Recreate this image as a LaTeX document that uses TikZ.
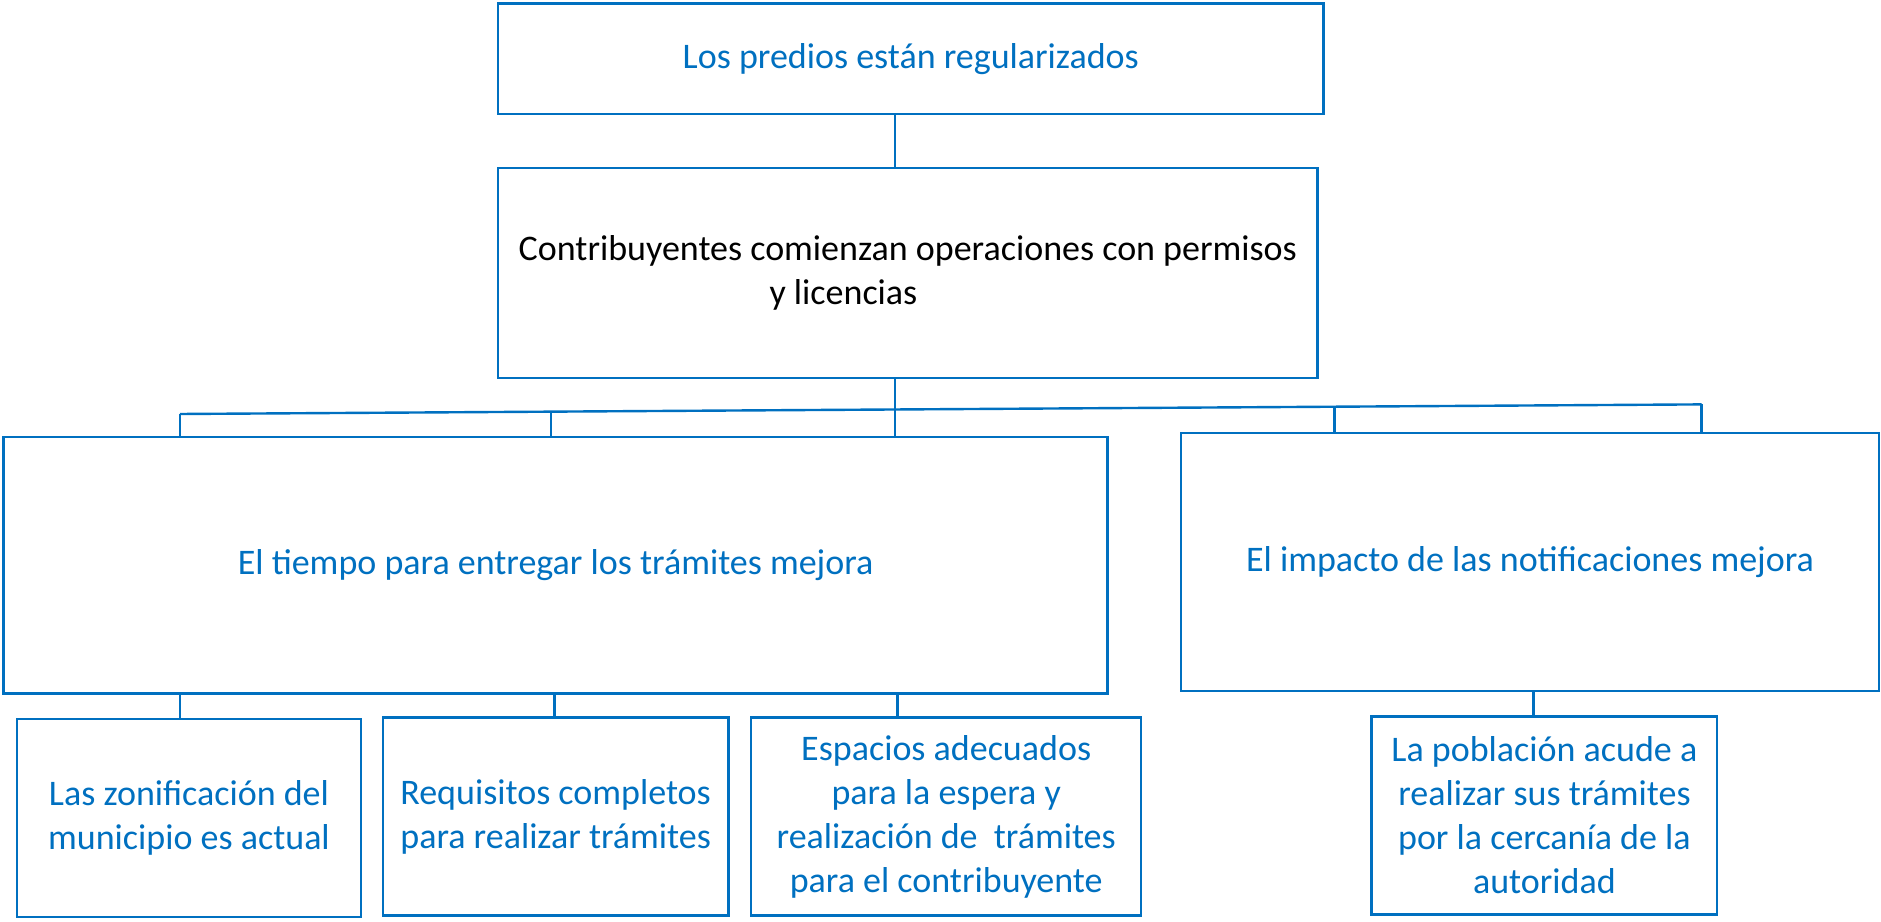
\documentclass[tikz,border=0pt]{standalone}
\usepackage{fontspec}
\setmainfont{Carlito}
\usetikzlibrary{calc}
\definecolor{azul}{HTML}{0070C0}

\begin{document}
\begin{tikzpicture}[x=0.5pt, y=-0.5pt, inner sep=0pt,
  caja/.style={rectangle, draw=azul, line width=1pt, text=azul, align=center, font=\fontsize{15}{18.3}\selectfont},
  linea/.style={draw=azul, line width=1pt}]
\useasboundingbox (0,0) rectangle (1567.5,768.3);
\node (predios) at (759,49) [caja, minimum width=344pt, minimum height=46pt] {Los predios están regularizados};
\node (contrib) at (756.5,227.5) [caja, minimum width=341.5pt, minimum height=87.5pt, text=black, align=left] {Contribuyentes comienzan operaciones con permisos\\\hspace*{104.5pt}y licencias};
\node (tiempo) at (463,471) [caja, minimum width=460pt, minimum height=107pt] {El tiempo para entregar los trámites mejora};
\node (impacto) at (1275,468.5) [caja, minimum width=291pt, minimum height=107.5pt] {El impacto de las notificaciones mejora};
\node (zonif) at (157.5,681.5) [caja, minimum width=143.5pt, minimum height=82.5pt] {Las zonificación del\\municipio es actual};
\node (requis) at (463,680.5) [caja, minimum width=144pt, minimum height=82.5pt] {Requisitos completos\\para realizar trámites};
\node (espacios) at (788.5,680.5) [caja, minimum width=162.5pt, minimum height=82.5pt] {Espacios adecuados\\para la espera y\\realización de\ \ trámites\\para el contribuyente};
\node (poblacion) at (1287,679.5) [caja, minimum width=144pt, minimum height=82.5pt] {La población acude a\\realizar sus trámites\\por la cercanía de la\\autoridad};
\coordinate (barraI) at (150,345);
\coordinate (barraD) at (1418,337);
\draw[linea] (746,0 |- predios.south) -- (746,0 |- contrib.north);
\draw[linea] (746,0 |- contrib.south) -- (746,0 |- tiempo.north);
\draw[linea] (barraI) -- (barraD);
\foreach \x/\caja in {150/tiempo,459/tiempo,1112/impacto,1418/impacto}
  \draw[linea] ($(barraI)!{(\x-150)/1268}!(barraD)$) coordinate (p) -- (p |- \caja.north);
\foreach \x/\caja in {150/zonif,462/requis,748/espacios}
  \draw[linea] (\x,0 |- tiempo.south) -- (\x,0 |- \caja.north);
\draw[linea] (1278,0 |- impacto.south) -- (1278,0 |- poblacion.north);
\end{tikzpicture}
\end{document}
